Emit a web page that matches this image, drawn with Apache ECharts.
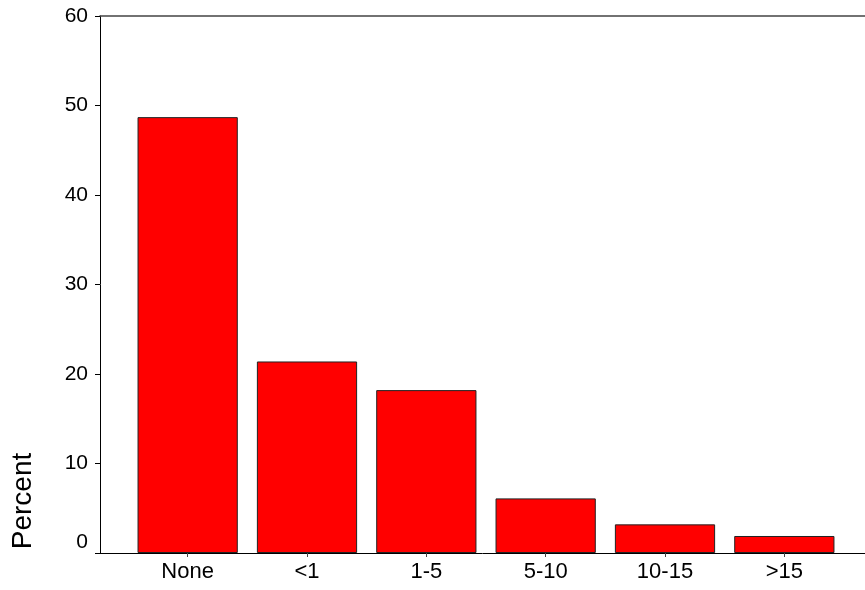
<!DOCTYPE html>
<html>
<head>
<meta charset="utf-8">
<script src="https://cdn.jsdelivr.net/npm/echarts@6/dist/echarts.min.js"></script>
<style>
  html, body { margin: 0; padding: 0; background: #fff; }
  #chart { width: 865px; height: 590px; }
</style>
</head>
<body>
<div id="chart"></div>
<script>
// percent of respondents per category
const categories = ['None', '<1', '1-5', '5-10', '10-15', '>15']
const percent = [48.7, 21.4, 18.2, 6.1, 3.2, 1.9]
const yTicks = { min: 0, max: 60, interval: 10 }

const font = 'Liberation Sans, Arial, sans-serif'
const lineStyle = { color: '#000', width: 1 }

// grid 0 draws the frame lines and the y axis, grid 1 holds the bars
const option = {
  animation: false,
  backgroundColor: '#fff',
  grid: [
    { left: 100, right: 0, top: 16, bottom: 37 },
    { left: 128, right: 21, top: 16, bottom: 37 }
  ],
  xAxis: [
    {
      gridIndex: 0, type: 'value', min: 0, max: 1, position: 'bottom',
      axisLine: { show: true, lineStyle },
      axisTick: { show: false }, axisLabel: { show: false }, splitLine: { show: false }
    },
    {
      gridIndex: 0, type: 'value', min: 0, max: 1, position: 'top',
      axisLine: { show: true, lineStyle: { color: '#444', width: 1.5 } },
      axisTick: { show: false }, axisLabel: { show: false }, splitLine: { show: false }
    },
    {
      gridIndex: 1, type: 'category', data: categories,
      axisLine: { show: false },
      axisTick: { show: true, alignWithLabel: true, length: 4, lineStyle: { color: '#444' } },
      axisLabel: { color: '#000', fontSize: 22, fontFamily: font, margin: 8 },
      splitLine: { show: false }
    }
  ],
  yAxis: [
    {
      gridIndex: 0, type: 'value',
      min: yTicks.min, max: yTicks.max, interval: yTicks.interval,
      axisLine: { show: true, lineStyle },
      axisTick: { show: true, length: 5, lineStyle },
      axisLabel: {
        color: '#000', fontSize: 21, fontFamily: font, margin: 12,
        // the zero label sits a little above its tick
        formatter: v => (v === 0 ? '{z|0}' : String(v)),
        rich: { z: { fontSize: 21, fontFamily: font, color: '#000', padding: [0, 0, 22, 0] } }
      },
      splitLine: { show: false }
    },
    {
      gridIndex: 1, type: 'value', min: yTicks.min, max: yTicks.max, show: false
    }
  ],
  graphic: [
    {
      type: 'text', x: 23, y: 501, rotation: Math.PI / 2,
      style: {
        text: 'Percent', fill: '#000', font: '28px ' + font,
        textAlign: 'center', textVerticalAlign: 'middle'
      }
    }
  ],
  series: [
    {
      type: 'bar', name: 'Percent',
      xAxisIndex: 2, yAxisIndex: 1,
      data: percent,
      barCategoryGap: '16%',
      itemStyle: { color: '#ff0000', borderColor: '#222', borderWidth: 1 }
    }
  ]
}

const myChart = echarts.init(document.getElementById('chart'))
myChart.setOption(option)
</script>
</body>
</html>
